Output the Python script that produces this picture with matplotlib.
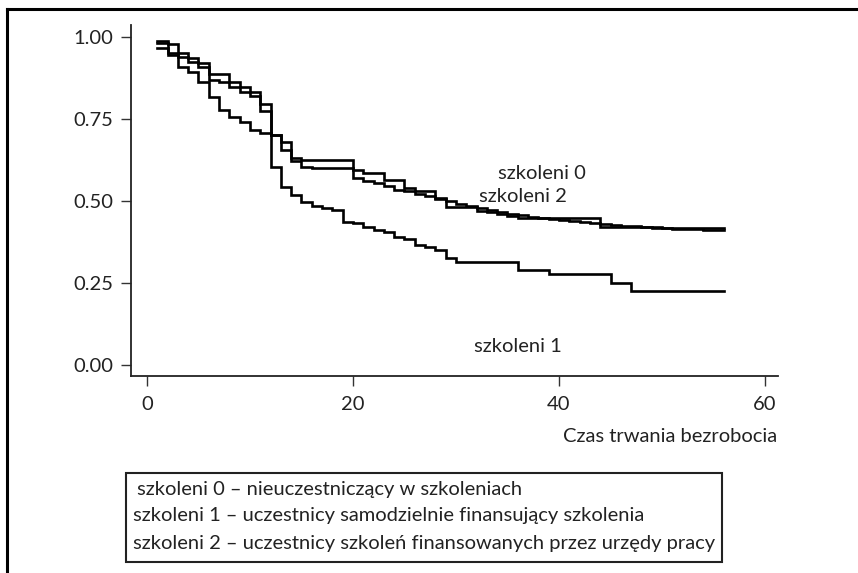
import matplotlib
matplotlib.use("Agg")
import matplotlib.pyplot as plt
from matplotlib.lines import Line2D
from matplotlib.patches import Rectangle

# ---- data ----
t0 = [1, 2, 3, 4, 5, 6, 7, 8, 9, 10, 11, 12, 13, 14, 15, 20, 21, 23, 25, 26, 28, 29,
      32, 33, 34, 35, 36, 44, 50, 56]
s0 = [0.989, 0.979, 0.952, 0.935, 0.920, 0.888, 0.888, 0.864, 0.849, 0.833, 0.796, 0.701,
      0.681, 0.631, 0.625, 0.595, 0.586, 0.564, 0.539, 0.530, 0.505, 0.482,
      0.470, 0.465, 0.460, 0.455, 0.447, 0.420, 0.418, 0.418]

t1 = [1, 2, 3, 4, 5, 6, 7, 8, 9, 10, 11, 12, 13, 14, 15, 16, 17, 18, 19, 20, 21, 22,
      23, 24, 25, 26, 27, 28, 29, 30, 36, 39, 45, 47, 56]
s1 = [0.966, 0.945, 0.909, 0.894, 0.864, 0.816, 0.777, 0.757, 0.742, 0.716, 0.707, 0.605,
      0.543, 0.518, 0.498, 0.485, 0.478, 0.472, 0.437, 0.432, 0.422, 0.412,
      0.405, 0.391, 0.385, 0.366, 0.360, 0.351, 0.325, 0.313, 0.290, 0.277, 0.249, 0.226, 0.226]

t2 = [1, 2, 3, 4, 5, 6, 7, 8, 9, 10, 11, 12, 13, 14, 15, 16, 20, 21, 22, 23, 24, 25,
      26, 27, 28, 29, 30, 31, 32, 33, 34, 35, 36, 37, 38, 39, 40, 41, 42, 43, 44, 45,
      46, 47, 48, 49, 50, 51, 52, 53, 54, 55, 56]
s2 = [0.981, 0.950, 0.940, 0.925, 0.909, 0.870, 0.864, 0.849, 0.833, 0.820, 0.775, 0.701,
      0.655, 0.621, 0.604, 0.600, 0.569, 0.560, 0.555, 0.545, 0.535, 0.530,
      0.522, 0.515, 0.508, 0.500, 0.492, 0.485, 0.478, 0.472, 0.466, 0.461, 0.456, 0.452,
      0.448, 0.445, 0.442, 0.440, 0.437, 0.434, 0.430, 0.428, 0.425, 0.423, 0.421, 0.419,
      0.417, 0.416, 0.415, 0.414, 0.413, 0.412, 0.412]

xticks = [0, 20, 40, 60]
yticks = [0.0, 0.25, 0.5, 0.75, 1.0]
ytick_labels = ["0.00", "0.25", "0.50", "0.75", "1.00"]
curve_labels = ["szkoleni 0", "szkoleni 2", "szkoleni 1"]
label_pos = [(38.3, 0.585), (36.5, 0.515), (36.0, 0.055)]
xlabel = "Czas trwania bezrobocia"
legend_lines = [
    "szkoleni 0 – nieuczestniczący w szkoleniach",
    "szkoleni 1 – uczestnicy samodzielnie finansujący szkolenia",
    "szkoleni 2 – uczestnicy szkoleń finansowanych przez urzędy pracy",
]

plt.rcParams['font.family'] = ['Lato', 'DejaVu Sans']
FS = 14.5

W, H = 858, 573
fig = plt.figure(figsize=(W / 100, H / 100), dpi=100)
ax = fig.add_axes([131 / W, 1 - 376 / H, (778 - 131) / W, (376 - 25) / H])

for t, s in [(t0, s0), (t1, s1), (t2, s2)]:
    ax.step(t, s, where='post', color='black', lw=1.9, solid_joinstyle='miter')

ax.set_xlim(-1.55, 61.26)
ax.set_ylim(-0.0335, 1.0366)
ax.set_xticks(xticks)
ax.set_yticks(yticks)
ax.set_yticklabels(ytick_labels)
for sp in ['top', 'right']:
    ax.spines[sp].set_visible(False)
for sp in ['left', 'bottom']:
    ax.spines[sp].set_linewidth(1.3)
    ax.spines[sp].set_color('#222222')
ax.tick_params(direction='out', length=7.5, width=1.0, color='#333333',
               labelsize=FS, labelcolor='#222222')
ax.tick_params(axis='x', pad=7)
ax.tick_params(axis='y', pad=5)

for lab, (x, y) in zip(curve_labels, label_pos):
    ax.text(x, y, lab, ha='center', va='center', fontsize=FS, color='#222222')

fig.text(777 / W, 1 - 437 / H, xlabel, ha='right', va='center', fontsize=FS, color='#222222')

# outer frame (top and left only)
fig.add_artist(Line2D([7 / W, 1.0], [1 - 8.5 / H, 1 - 8.5 / H], transform=fig.transFigure,
                      color='black', lw=2.2))
fig.add_artist(Line2D([7 / W, 7 / W], [1 - 8.5 / H, 0.0], transform=fig.transFigure,
                      color='black', lw=2.2))

# legend box
fig.add_artist(Rectangle((126 / W, 1 - 562 / H), (722 - 126) / W, (562 - 473) / H,
                         transform=fig.transFigure, fill=False, edgecolor='#222222', lw=1.5))
for i, line in enumerate(legend_lines):
    xs = 137 if i == 0 else 133
    fig.text(xs / W, 1 - (489 + 27 * i) / H, line, ha='left', va='center',
             fontsize=FS, color='#222222')

fig.savefig("out.png", dpi=100)
